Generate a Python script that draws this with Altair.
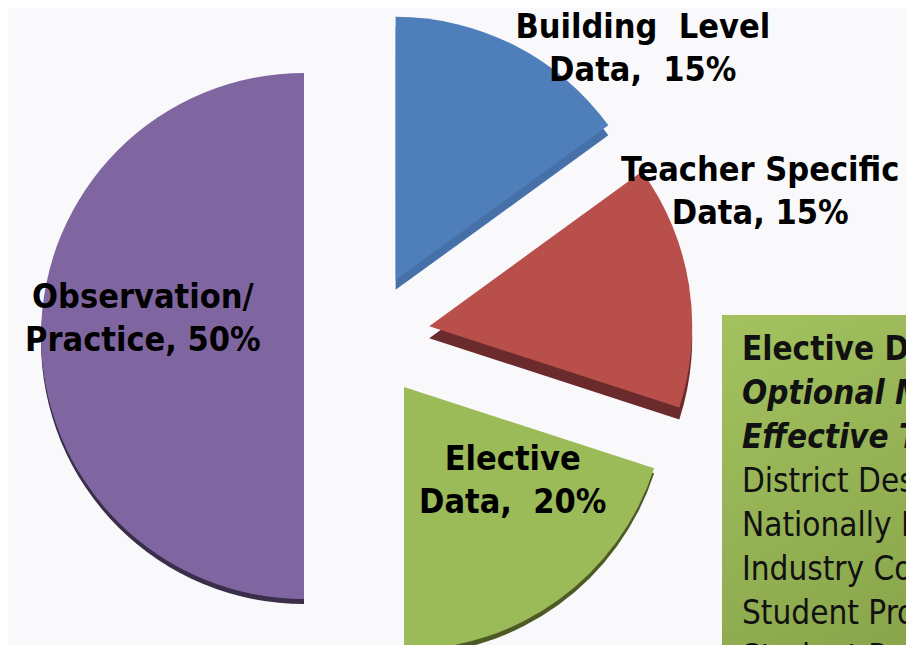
import altair as alt
import pandas as pd

# ---- data ----
categories = ["Building Level Data", "Teacher Specific Data", "Elective Data", "Observation/Practice"]
values = [15, 15, 20, 50]
labels = ["Building\u00a0 Level|Data,\u00a0 15%", "Teacher Specific|Data, 15%",
          "Elective|Data,\u00a0 20%", "Observation/|Practice, 50%"]

box_lines = ["Elective Data:", "Optional Measures of", "Effective Teaching",
             "District Designed Assessments", "Nationally Normed Assessments",
             "Industry Competency Exams", "Student Projects", "Student Performances"]
box_styles = ["bold", "bolditalic", "bolditalic", "normal", "normal", "normal", "normal", "normal"]

# ---- styles ----
colors = ["#4f7fba", "#b84f4b", "#9bbb59", "#8066a0"]
side_colors = ["#4671a8", "#6b2a2c", "#4d5a26", "#3a2e4a"]
depth = [10, 12, 5, 5]
label_angle_deg = [47, 68, 131, 276]
label_dist = [338, 357, 144, 162]
CX, CY, EXPLODE, R = 359, 328, 63, 263
FONT = "DejaVu Sans Condensed, DejaVu Sans"
LINE_H = 43
W, H = 898, 637

df = pd.DataFrame({
    "category": categories, "value": values, "label": labels,
    "order": list(range(len(categories))),
    "depth": depth, "lang": label_angle_deg, "ldist": label_dist,
    "side": [c + " side" for c in categories],
})

base = (
    alt.Chart(df)
    .transform_joinaggregate(total="sum(value)")
    .transform_window(cum="sum(value)", sort=[alt.SortField("order")], frame=[None, 0])
    .transform_calculate(t1="datum.cum / datum.total * 2 * PI")
    .transform_calculate(t0="(datum.cum - datum.value) / datum.total * 2 * PI")
    .transform_calculate(mid="(datum.t0 + datum.t1) / 2")
    .transform_calculate(cx=f"{CX} + {EXPLODE} * sin(datum.mid)")
    .transform_calculate(cy=f"{CY} - {EXPLODE} * cos(datum.mid)")
    .transform_calculate(cyd="datum.cy + datum.depth")
    .transform_calculate(lx="datum.cx + datum.ldist * sin(datum.lang * PI / 180)")
    .transform_calculate(ly="datum.cy - datum.ldist * cos(datum.lang * PI / 180)")
)

sides = base.mark_arc(radius=R).encode(
    x=alt.X("cx:Q", scale=None, axis=None),
    y=alt.Y("cyd:Q", scale=None, axis=None),
    theta=alt.Theta("t0:Q", scale=None),
    theta2=alt.Theta2("t1"),
    color=alt.Color("side:N", scale=alt.Scale(domain=[c + " side" for c in categories], range=side_colors), legend=None),
)

tops = base.mark_arc(radius=R).encode(
    x=alt.X("cx:Q", scale=None, axis=None),
    y=alt.Y("cy:Q", scale=None, axis=None),
    theta=alt.Theta("t0:Q", scale=None),
    theta2=alt.Theta2("t1"),
    color=alt.Color("category:N", scale=alt.Scale(domain=categories, range=colors), legend=None),
)

slice_labels = base.mark_text(
    font=FONT, fontSize=34, fontWeight="bold", lineBreak="|", lineHeight=LINE_H,
    align="center", baseline="middle", color="#000000", dy=-LINE_H / 2,
).encode(
    x=alt.X("lx:Q", scale=None, axis=None),
    y=alt.Y("ly:Q", scale=None, axis=None),
    text="label:N",
)

box = alt.Chart(alt.Data(values=[{}])).mark_rect(
    color=alt.Gradient(
        gradient="linear",
        stops=[alt.GradientStop(color="#a3c25f", offset=0),
               alt.GradientStop(color="#86a249", offset=1)],
        x1=0, x2=0.4, y1=0, y2=1,
    )
).encode(x=alt.value(714), x2=alt.value(1000), y=alt.value(307), y2=alt.value(720))

box_df = pd.DataFrame({"line": box_lines, "style": box_styles, "i": list(range(len(box_lines)))})
box_base = alt.Chart(box_df).transform_calculate(yy="342 + datum.i * 44")


def box_text(style, weight, fstyle):
    return box_base.transform_filter(alt.datum.style == style).mark_text(
        font=FONT, fontSize=33, fontWeight=weight, fontStyle=fstyle,
        align="left", baseline="middle", color="#111111",
    ).encode(
        x=alt.value(734),
        y=alt.Y("yy:Q", scale=None, axis=None),
        text="line:N",
    )


chart = alt.layer(
    sides, tops, slice_labels, box,
    box_text("bold", "bold", "normal"),
    box_text("bolditalic", "bold", "italic"),
    box_text("normal", "normal", "normal"),
).resolve_scale(color="independent").properties(
    width=W, height=H, background="#f9f9fc", padding=0,
    autosize=alt.AutoSizeParams(type="none"),
).configure_view(stroke=None)

chart.save("out.html", embed_options={"renderer": "svg", "actions": False})
